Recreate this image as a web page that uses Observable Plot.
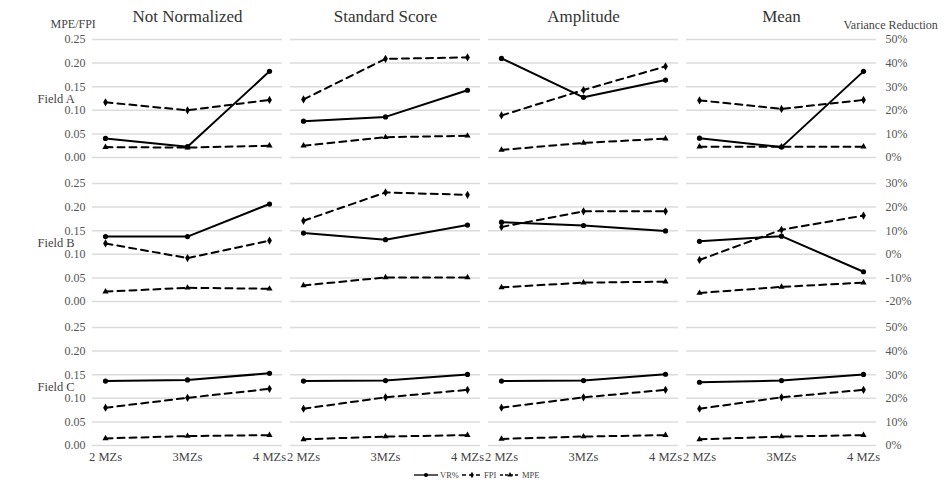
<!DOCTYPE html>
<html><head><meta charset="utf-8">
<script src="https://cdn.jsdelivr.net/npm/d3@7"></script>
<script src="https://cdn.jsdelivr.net/npm/@observablehq/plot@0.6"></script>
<style>
html,body{margin:0;padding:0;background:#fff;}
#wrap{position:relative;width:948px;height:485px;font-family:"Liberation Serif","DejaVu Serif","Times New Roman",serif;}
#wrap svg, #wrap svg text{font-family:"Liberation Serif","DejaVu Serif","Times New Roman",serif;}
#legend{position:absolute;left:0;top:466px;}
</style></head><body><div id="wrap"></div>
<script>
const fields = ["Field A","Field B","Field C"];
const methods = ["Not Normalized","Standard Score","Amplitude","Mean"];
const zones = ["2 MZs","3MZs","4 MZs"];
const seriesNames = ["VR%","FPI","MPE"];

// VR% (right axis), per method, per zone count
const vrFieldA = [[8.1,4.6,36.5],[15.4,17.2,28.5],[42.0,25.5,32.8],[8.2,4.4,36.5]];
const fpiFieldA = [[0.117,0.100,0.122],[0.123,0.209,0.212],[0.089,0.143,0.193],[0.121,0.103,0.122]];
const mpeFieldA = [[0.022,0.021,0.025],[0.025,0.043,0.046],[0.016,0.031,0.040],[0.023,0.023,0.023]];

const vrFieldB = [[7.5,7.5,21.3],[9.0,6.2,12.4],[13.6,12.2,9.9],[5.5,7.7,-7.4]];
const fpiFieldB = [[0.123,0.092,0.129],[0.171,0.231,0.226],[0.158,0.191,0.191],[0.088,0.152,0.182]];
const mpeFieldB = [[0.021,0.029,0.027],[0.034,0.051,0.051],[0.030,0.040,0.042],[0.018,0.031,0.040]];

const vrFieldC = [[27.3,27.8,30.6],[27.3,27.5,30.1],[27.3,27.5,30.2],[26.8,27.5,30.1]];
const fpiFieldC = [[0.080,0.101,0.120],[0.078,0.102,0.118],[0.080,0.102,0.118],[0.078,0.102,0.118]];
const mpeFieldC = [[0.015,0.020,0.022],[0.013,0.019,0.022],[0.014,0.019,0.022],[0.013,0.019,0.022]];

const leftTicks = [0,0.05,0.10,0.15,0.20,0.25];
const rightTicksA = ["0%","10%","20%","30%","40%","50%"];
const rightTicksB = ["-20%","-10%","0%","10%","20%","30%"];
const rightTicksC = ["0%","10%","20%","30%","40%","50%"];
const vrMin = [0,-20,0];
const vrMax = [50,30,50];

// ---- build tables ----
const vrSets = [vrFieldA, vrFieldB, vrFieldC];
const fpiSets = [fpiFieldA, fpiFieldB, fpiFieldC];
const mpeSets = [mpeFieldA, mpeFieldB, mpeFieldC];
const rightSets = [rightTicksA, rightTicksB, rightTicksC];
const leftMax = leftTicks[leftTicks.length-1];

const rows = [];
fields.forEach((f,i) => methods.forEach((m,j) => zones.forEach((z,k) => {
  rows.push({field:f, method:m, zone:z, series:seriesNames[0], y:(vrSets[i][j][k]-vrMin[i])/(vrMax[i]-vrMin[i])*leftMax});
  rows.push({field:f, method:m, zone:z, series:seriesNames[1], y:fpiSets[i][j][k]});
  rows.push({field:f, method:m, zone:z, series:seriesNames[2], y:mpeSets[i][j][k]});
})));
const rightRows = [];
fields.forEach((f,i) => leftTicks.forEach((t,j) => rightRows.push({field:f, pos:t, label:rightSets[i][j]})));

const sel = s => rows.filter(d => d.series === s);
const common = {x:"zone", y:"y", fx:"method", fy:"field"};
const lastMethod = methods[methods.length-1];
const serif = '"Liberation Serif","DejaVu Serif","Times New Roman",serif';

const chart = Plot.plot({
  width:948, height:485,
  marginTop:39, marginBottom:39, marginLeft:90, marginRight:70,
  style:`font-family:${serif};font-size:12px;background:#fff;color:#444;`,
  x:{type:"point", domain:zones, padding:0.15},
  y:{domain:[0,leftMax]},
  fx:{domain:methods, padding:0.04},
  fy:{domain:fields, padding:0.18, axis:null},
  marks:[
    Plot.gridY(leftTicks, {stroke:"#dcdcdc", strokeOpacity:1, strokeWidth:1.5}),
    Plot.axisY(leftTicks, {anchor:"left", tickSize:0, tickPadding:7, tickFormat:d3.format(".2f"), label:null, fontSize:12, fontFamily:serif, color:"#555"}),
    Plot.axisX({anchor:"bottom", tickSize:0, tickPadding:7, label:null, fontSize:12.5, fontFamily:serif, color:"#444"}),
    Plot.axisFx({anchor:"top", tickSize:0, tickPadding:18, label:null, fontSize:17, fontFamily:serif, color:"#333"}),
    Plot.text(rightRows, {fx:() => lastMethod, fy:"field", y:"pos", text:"label", frameAnchor:"right", dx:9, textAnchor:"start", fontSize:12, fontFamily:serif, fill:"#555"}),
    Plot.text(fields, {fx:() => methods[0], fy:d => d, text:d => d, frameAnchor:"left", dx:-55, textAnchor:"start", fontSize:12.5, fontFamily:serif, fill:"#444"}),
    Plot.text(["MPE/FPI"], {fx:() => methods[0], fy:() => fields[0], text:d => d, frameAnchor:"top-left", lineAnchor:"middle", dx:-42, dy:-15, textAnchor:"start", fontSize:12, fontFamily:serif, fill:"#444"}),
    Plot.text(["Variance Reduction"], {fx:() => lastMethod, fy:() => fields[0], text:d => d, frameAnchor:"top-right", lineAnchor:"middle", dx:-33, dy:-14, textAnchor:"start", fontSize:12, fontFamily:serif, fill:"#444"}),
    Plot.line(sel("FPI"), {...common, stroke:"#000", strokeWidth:2, strokeDasharray:"7,5"}),
    Plot.line(sel("MPE"), {...common, stroke:"#000", strokeWidth:2, strokeDasharray:"7,5"}),
    Plot.line(sel("VR%"), {...common, stroke:"#000", strokeWidth:2}),
    Plot.dot(sel("FPI"), {...common, symbol:"diamond", r:2.5, fill:"#000"}),
    Plot.dot(sel("MPE"), {...common, symbol:"triangle", r:2.3, fill:"#000"}),
    Plot.dot(sel("VR%"), {...common, symbol:"circle", r:2.6, fill:"#000"})
  ]
});
const wrap = document.getElementById("wrap");
wrap.appendChild(chart);

// ---- legend ----
const leg = d3.create("svg").attr("id","legend").attr("width",948).attr("height",19)
  .style("font-family",serif);
const items = [
  {name:seriesNames[0], x0:414, x1:438, dash:null, sym:d3.symbolCircle, size:14},
  {name:seriesNames[1], x0:462, x1:482, dash:"4,3", sym:d3.symbolDiamond, size:12},
  {name:seriesNames[2], x0:500, x1:520, dash:"3,2", sym:d3.symbolTriangle, size:12}
];
items.forEach(it => {
  const g = leg.append("g");
  g.append("line").attr("x1",it.x0).attr("x2",it.x1).attr("y1",9).attr("y2",9)
    .attr("stroke","#000").attr("stroke-width",1.3).attr("stroke-dasharray",it.dash);
  g.append("path").attr("d",d3.symbol(it.sym,it.size)()).attr("transform",`translate(${(it.x0+it.x1)/2},9)`).attr("fill","#000");
  g.append("text").attr("x",it.x1+2).attr("y",12).attr("font-size",8.5).attr("fill","#444").text(it.name);
});
wrap.appendChild(leg.node());
</script></body></html>
